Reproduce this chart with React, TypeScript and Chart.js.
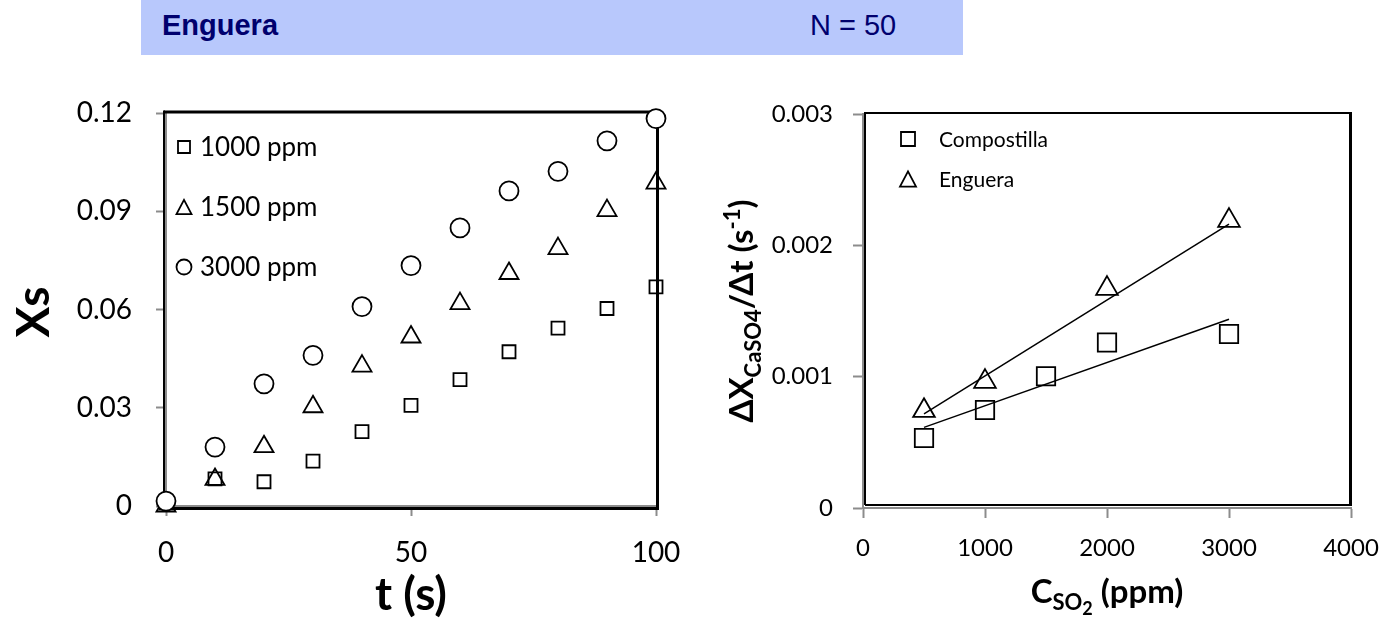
import React, { useEffect, useRef } from "react";
import { Chart, registerables } from "chart.js";

Chart.register(...registerables);

// ---------------- Left panel data (Xs vs t) ----------------
const timeSeconds = [0, 10, 20, 30, 40, 50, 60, 70, 80, 90, 100];
const xs1000ppm = [0.001, 0.0083, 0.0074, 0.0137, 0.0227, 0.0307, 0.0386, 0.0471, 0.0543, 0.0603, 0.0669];
const xs1500ppm = [0.0, 0.0081, 0.0181, 0.0303, 0.0427, 0.0516, 0.0618, 0.071, 0.0786, 0.0902, 0.0986];
const xs3000ppm = [0.0015, 0.018, 0.0373, 0.046, 0.0609, 0.0734, 0.0849, 0.0962, 0.1022, 0.1115, 0.1183];
const leftXTickValues = [0, 50, 100];
const leftYTickValues = [0, 0.03, 0.06, 0.09, 0.12];
const leftYTickLabels = ["0", "0.03", "0.06", "0.09", "0.12"];
const leftLegendLabels = ["1000 ppm", "1500 ppm", "3000 ppm"];

// ---------------- Right panel data (rate vs C_SO2) ----------------
const so2Compostilla = [500, 1000, 1500, 2000, 3000];
const rateCompostilla = [0.000533, 0.000746, 0.001003, 0.00126, 0.001325];
const so2Enguera = [500, 1000, 2000, 3000];
const rateEnguera = [0.000741, 0.000962, 0.00167, 0.002188];
const fitSo2 = [500, 3000];
const fitCompostilla = [0.000614, 0.001437];
const fitEnguera = [0.000716, 0.002162];
const rightXTickValues = [0, 1000, 2000, 3000, 4000];
const rightYTickValues = [0, 0.001, 0.002, 0.003];
const rightYTickLabels = ["0", "0.001", "0.002", "0.003"];
const rightLegendLabels = ["Compostilla", "Enguera"];

const FONT = "Lato, 'Open Sans', sans-serif";
const GRAY = "#8c8c8c";

type Seg = { text: string; size: number; dy: number };

function drawRich(ctx: CanvasRenderingContext2D, segs: Seg[], cx: number, cy: number, rotate: boolean) {
  ctx.save();
  ctx.translate(cx, cy);
  if (rotate) ctx.rotate(-Math.PI / 2);
  let total = 0;
  const widths = segs.map((s) => {
    ctx.font = `bold ${s.size}px ${FONT}`;
    const w = ctx.measureText(s.text).width;
    total += w;
    return w;
  });
  let x = -total / 2;
  ctx.textBaseline = "alphabetic";
  ctx.textAlign = "left";
  ctx.fillStyle = "#000";
  segs.forEach((s, i) => {
    ctx.font = `bold ${s.size}px ${FONT}`;
    ctx.fillText(s.text, x, s.dy);
    x += widths[i];
  });
  ctx.restore();
}

function drawMarker(ctx: CanvasRenderingContext2D, style: string, x: number, y: number, size: number, fill: string | null) {
  ctx.save();
  ctx.beginPath();
  if (style === "rect") {
    ctx.rect(x - size / 2, y - size / 2, size, size);
  } else if (style === "triangle") {
    const h = size * 0.95;
    ctx.moveTo(x, y - h / 2);
    ctx.lineTo(x + size / 2, y + h / 2);
    ctx.lineTo(x - size / 2, y + h / 2);
    ctx.closePath();
  } else {
    ctx.arc(x, y, size / 2, 0, Math.PI * 2);
  }
  if (fill) {
    ctx.fillStyle = fill;
    ctx.fill();
  }
  ctx.lineWidth = 1.8;
  ctx.strokeStyle = "#000";
  ctx.stroke();
  ctx.restore();
}

function LeftPanel() {
  const ref = useRef<HTMLCanvasElement>(null);
  useEffect(() => {
    const framePlugin = {
      id: "leftFrame",
      beforeDatasetsDraw(chart: any) {
        const ctx = chart.ctx as CanvasRenderingContext2D;
        const a = chart.chartArea;
        ctx.save();
        ctx.strokeStyle = "#000";
        ctx.lineWidth = 3;
        ctx.beginPath();
        ctx.moveTo(a.left - 2, a.top - 1);
        ctx.lineTo(a.right + 1.5, a.top - 1);
        ctx.lineTo(a.right + 1.5, a.bottom + 2.5);
        ctx.lineTo(a.left - 2, a.bottom + 2.5);
        ctx.stroke();
        ctx.lineWidth = 2;
        ctx.beginPath();
        ctx.moveTo(a.left - 2, a.top - 2.5);
        ctx.lineTo(a.left - 2, a.bottom + 4);
        ctx.stroke();
        ctx.restore();
      },
      afterDatasetsDraw(chart: any) {
        const ctx = chart.ctx as CanvasRenderingContext2D;
        const rows = [147, 207, 267];
        const styles = ["rect", "triangle", "circle"];
        const sizes = [12, 15, 15];
        ctx.save();
        rows.forEach((y, i) => {
          drawMarker(ctx, styles[i], 184, y, sizes[i], i === 2 ? "#fff" : null);
          ctx.font = `26px ${FONT}`;
          ctx.fillStyle = "#000";
          ctx.textAlign = "left";
          ctx.textBaseline = "middle";
          ctx.fillText(leftLegendLabels[i], 200, y + 1);
        });
        drawRich(ctx, [{ text: "Xs", size: 46, dy: 16 }], 33, 312, true);
        drawRich(ctx, [{ text: "t (s)", size: 46, dy: 15 }], 411, 595, false);
        ctx.restore();
      },
    };

    const pts = (ys: number[]) => timeSeconds.map((t, i) => ({ x: t, y: ys[i] }));
    const chart = new Chart(ref.current!, {
      type: "scatter",
      data: {
        datasets: [
          {
            label: leftLegendLabels[2],
            data: pts(xs3000ppm),
            pointStyle: "circle",
            pointRadius: 9.5,
            pointHoverRadius: 9.5,
            pointBackgroundColor: "#fff",
            pointBorderColor: "#000",
            pointBorderWidth: 1.8,
            showLine: false,
            order: 0,
            clip: false,
          } as any,
          {
            label: leftLegendLabels[1],
            data: pts(xs1500ppm),
            pointStyle: "triangle",
            pointRadius: 11,
            pointHoverRadius: 11,
            pointBackgroundColor: "rgba(0,0,0,0)",
            pointBorderColor: "#000",
            pointBorderWidth: 1.8,
            showLine: false,
            order: 1,
            clip: false,
          },
          {
            label: leftLegendLabels[0],
            data: pts(xs1000ppm),
            pointStyle: "rect",
            pointRadius: 9.2,
            pointHoverRadius: 9.2,
            pointBackgroundColor: "rgba(0,0,0,0)",
            pointBorderColor: "#000",
            pointBorderWidth: 1.8,
            showLine: false,
            order: 2,
            clip: false,
          },
        ],
      },
      options: {
        responsive: false,
        animation: false,
        devicePixelRatio: 1,
        events: [],
        layout: { padding: { left: 0, right: 44, top: 113, bottom: 0 } },
        plugins: { legend: { display: false }, tooltip: { enabled: false } },
        scales: {
          x: {
            type: "linear",
            min: 0,
            max: 100,
            afterBuildTicks: (s: any) => {
              s.ticks = leftXTickValues.map((v) => ({ value: v }));
            },
            afterFit: (s: any) => {
              s.height = 119;
              s.paddingLeft = 0;
              s.paddingRight = 0;
            },
            grid: { display: true, drawOnChartArea: false, drawTicks: true, tickLength: 10, color: GRAY, tickWidth: 2 },
            border: { display: true, color: GRAY, width: 2 },
            ticks: { font: { family: FONT, size: 28 }, color: "#000", padding: 20, maxRotation: 0, autoSkip: false },
          },
          y: {
            type: "linear",
            min: 0,
            max: 0.12,
            afterBuildTicks: (s: any) => {
              s.ticks = leftYTickValues.map((v) => ({ value: v }));
            },
            afterFit: (s: any) => {
              s.width = 166;
              s.paddingTop = 0;
              s.paddingBottom = 0;
            },
            grid: { display: true, drawOnChartArea: false, drawTicks: true, tickLength: 10, color: GRAY, tickWidth: 2 },
            border: { display: true, color: GRAY, width: 2 },
            ticks: {
              font: { family: FONT, size: 28 },
              color: "#000",
              padding: 24,
              autoSkip: false,
              callback: (_v: any, i: number) => leftYTickLabels[i],
            },
          },
        },
      },
      plugins: [framePlugin],
    } as any);
    return () => chart.destroy();
  }, []);
  return (
    <canvas
      ref={ref}
      width={700}
      height={625}
      style={{ position: "absolute", left: 0, top: 0, width: 700, height: 625 }}
    />
  );
}

function RightPanel() {
  const ref = useRef<HTMLCanvasElement>(null);
  useEffect(() => {
    const framePlugin = {
      id: "rightFrame",
      beforeDatasetsDraw(chart: any) {
        const ctx = chart.ctx as CanvasRenderingContext2D;
        const a = chart.chartArea;
        ctx.save();
        ctx.strokeStyle = "#000";
        ctx.lineWidth = 2;
        ctx.beginPath();
        ctx.moveTo(a.left + 2, a.bottom - 3);
        ctx.lineTo(a.left + 2, a.top - 1);
        ctx.lineTo(a.right, a.top - 1);
        ctx.stroke();
        ctx.lineWidth = 3;
        ctx.beginPath();
        ctx.moveTo(a.right - 0.5, a.top - 2);
        ctx.lineTo(a.right - 0.5, a.bottom - 3);
        ctx.stroke();
        ctx.lineWidth = 2;
        ctx.beginPath();
        ctx.moveTo(a.left + 2, a.bottom - 3);
        ctx.lineTo(a.right + 1, a.bottom - 3);
        ctx.stroke();
        ctx.restore();
      },
      afterDatasetsDraw(chart: any) {
        const ctx = chart.ctx as CanvasRenderingContext2D;
        const rows = [139, 179];
        const styles = ["rect", "triangle"];
        const sizes = [14, 16];
        ctx.save();
        rows.forEach((y, i) => {
          drawMarker(ctx, styles[i], 208, y, sizes[i], null);
          ctx.font = `21px ${FONT}`;
          ctx.fillStyle = "#000";
          ctx.textAlign = "left";
          ctx.textBaseline = "middle";
          ctx.fillText(rightLegendLabels[i], 239, y + 1);
        });
        drawRich(
          ctx,
          [
            { text: "ΔX", size: 33, dy: 12 },
            { text: "CaSO4", size: 22, dy: 20 },
            { text: "/Δt (s", size: 33, dy: 12 },
            { text: "-1", size: 22, dy: -1 },
            { text: ")", size: 33, dy: 12 },
          ],
          41,
          311,
          true
        );
        drawRich(
          ctx,
          [
            { text: "C", size: 33, dy: 12 },
            { text: "SO", size: 22, dy: 19 },
            { text: "2", size: 18, dy: 24 },
            { text: " (ppm)", size: 33, dy: 12 },
          ],
          407,
          591,
          false
        );
        ctx.restore();
      },
    };

    const markerBase = {
      pointBorderColor: "#000",
      pointBorderWidth: 1.8,
      pointBackgroundColor: "rgba(0,0,0,0)",
      showLine: false,
      clip: false,
    };
    const chart = new Chart(ref.current!, {
      type: "scatter",
      data: {
        datasets: [
          {
            label: "Compostilla fit",
            data: fitSo2.map((x, i) => ({ x, y: fitCompostilla[i] })),
            showLine: true,
            borderColor: "#000",
            borderWidth: 1.5,
            pointRadius: 0,
            pointHoverRadius: 0,
            order: 3,
            clip: false,
          },
          {
            label: "Enguera fit",
            data: fitSo2.map((x, i) => ({ x, y: fitEnguera[i] })),
            showLine: true,
            borderColor: "#000",
            borderWidth: 1.5,
            pointRadius: 0,
            pointHoverRadius: 0,
            order: 3,
            clip: false,
          },
          {
            label: rightLegendLabels[0],
            data: so2Compostilla.map((x, i) => ({ x, y: rateCompostilla[i] })),
            pointStyle: "rect",
            pointRadius: 13,
            pointHoverRadius: 13,
            order: 1,
            ...markerBase,
          },
          {
            label: rightLegendLabels[1],
            data: so2Enguera.map((x, i) => ({ x, y: rateEnguera[i] })),
            pointStyle: "triangle",
            pointRadius: 12.5,
            pointHoverRadius: 12.5,
            order: 0,
            ...markerBase,
          },
        ],
      },
      options: {
        responsive: false,
        animation: false,
        devicePixelRatio: 1,
        events: [],
        layout: { padding: { left: 0, right: 35, top: 114, bottom: 0 } },
        plugins: { legend: { display: false }, tooltip: { enabled: false } },
        scales: {
          x: {
            type: "linear",
            min: 0,
            max: 4000,
            afterBuildTicks: (s: any) => {
              s.ticks = rightXTickValues.map((v) => ({ value: v }));
            },
            afterFit: (s: any) => {
              s.height = 117;
              s.paddingLeft = 0;
              s.paddingRight = 0;
            },
            grid: { display: true, drawOnChartArea: false, drawTicks: true, tickLength: 10, color: GRAY, tickWidth: 2 },
            border: { display: true, color: GRAY, width: 2 },
            ticks: {
              font: { family: FONT, size: 24 },
              color: "#000",
              padding: 16,
              maxRotation: 0,
              autoSkip: false,
              callback: (v: any) => String(v),
            },
          },
          y: {
            type: "linear",
            min: 0,
            max: 0.003,
            afterBuildTicks: (s: any) => {
              s.ticks = rightYTickValues.map((v) => ({ value: v }));
            },
            afterFit: (s: any) => {
              s.width = 163;
              s.paddingTop = 0;
              s.paddingBottom = 0;
            },
            grid: { display: true, drawOnChartArea: false, drawTicks: true, tickLength: 10, color: GRAY, tickWidth: 2 },
            border: { display: true, color: GRAY, width: 2 },
            ticks: {
              font: { family: FONT, size: 24 },
              color: "#000",
              padding: 20,
              autoSkip: false,
              callback: (_v: any, i: number) => rightYTickLabels[i],
            },
          },
        },
      },
      plugins: [framePlugin],
    } as any);
    return () => chart.destroy();
  }, []);
  return (
    <canvas
      ref={ref}
      width={686}
      height={625}
      style={{ position: "absolute", left: 700, top: 0, width: 686, height: 625 }}
    />
  );
}

export default function App() {
  return (
    <div style={{ position: "absolute", left: 0, top: 0, width: 1386, height: 625, background: "#fff", overflow: "hidden" }}>
      <div style={{ position: "absolute", left: 141, top: 0, width: 822, height: 55, background: "#b8c8fc" }} />
      <span
        style={{
          position: "absolute",
          left: 162,
          top: 11,
          lineHeight: "29px",
          fontSize: 29,
          fontWeight: "bold",
          fontFamily: "'Liberation Sans', Arial, sans-serif",
          color: "#00006e",
          whiteSpace: "nowrap",
        }}
      >
        Enguera
      </span>
      <span
        style={{
          position: "absolute",
          left: 810,
          top: 11,
          lineHeight: "29px",
          fontSize: 29,
          fontFamily: "'Liberation Sans', Arial, sans-serif",
          color: "#00006e",
          whiteSpace: "nowrap",
        }}
      >
        N = 50
      </span>
      <LeftPanel />
      <RightPanel />
    </div>
  );
}
